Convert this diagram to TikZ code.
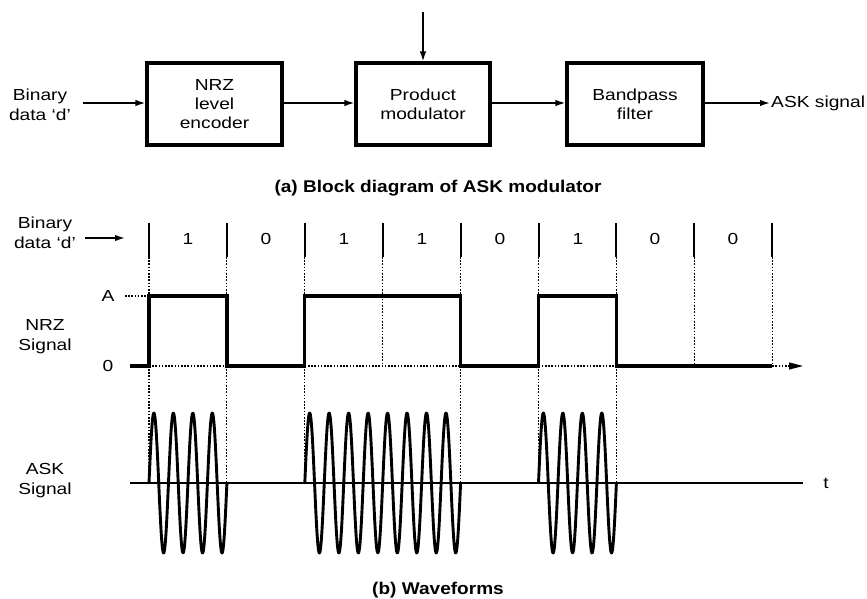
\documentclass[tikz,border=0pt]{standalone}
\usepackage{fontspec}
\setmainfont{Liberation Sans}[FakeStretch=1.2]
\newfontfamily\capfont{Liberation Sans}[FakeStretch=1.12]
\usetikzlibrary{arrows.meta}
\begin{document}
\begin{tikzpicture}[x=1pt,y=-1pt,
  blk/.style={draw, line width=3.1pt, minimum height=82pt, align=center, inner sep=0pt, font=\fontsize{16}{19}\selectfont},
  lbl/.style={align=center, inner sep=1pt, font=\fontsize{16}{20}\selectfont},
  capt/.style={inner sep=0pt, font=\capfont\bfseries\fontsize{17}{20}\selectfont},
  sig/.style={-{Latex[length=10pt,width=6.5pt]}, line width=1.6pt},
  dots/.style={dash pattern=on 1.6pt off 1.6pt, line width=1.1pt},
  bitmark/.style={line width=2pt},
  nrz/.style={line width=3.3pt, line join=miter},
  wave/.style={line width=2.9pt, line join=round},
  axis/.style={line width=1.9pt}]
\useasboundingbox (0,0) rectangle (867,598);

% ---------- (a) block diagram ----------
\node[lbl] (bin) at (40,105) {Binary\\data `d'};
\node[blk, minimum width=135pt] (nrzb) at (214.5,104) {NRZ\\level\\encoder};
\node[blk, minimum width=134pt] (prod) at (423,104) {Product\\modulator};
\node[blk, minimum width=136pt] (bpf) at (635,104) {Bandpass\\filter};
\node[lbl, anchor=west] (ask) at (770,103) {ASK signal};
\coordinate (in) at (83,103);
\coordinate (carrier) at (423,12);
\draw[sig] (in) -- (in -| nrzb.west);
\draw[sig] (nrzb.east |- 0,103) -- (prod.west |- 0,103);
\draw[sig] (prod.east |- 0,103) -- (bpf.west |- 0,103);
\draw[sig] (bpf.east |- 0,103) -- (ask.west);
\draw[sig] (carrier) -- (prod.north);
\node[capt] (capa) at (438,188) {(a) Block diagram of ASK modulator};

% ---------- (b) waveforms ----------
\node[lbl] (bin2) at (45,233) {Binary\\data `d'};
\coordinate (da0) at (85,238);
\coordinate (da1) at (125,238);
\draw[sig] (da0) -- (da1);

% bit marks and digits
\foreach \b in {149,226.9,304.8,382.7,460.6,538.5,616.4,694.3,772.2}
  \draw[bitmark] (\b,223) -- (\b,257);
\foreach \c/\d in {188/1,266/0,344/1,422/1,500/0,578/1,655/0,733/0}
  \node[lbl] (bit\c) at (\c,239) {\d};

% dotted guide lines
\foreach \b in {149,226.9,304.8,460.6,538.5,616.4}
  \draw[dots] (\b,257) -- (\b,483);
\foreach \b in {382.7,694.3,772.2}
  \draw[dots] (\b,257) -- (\b,366);
\draw[dots] (125,296) -- (149,296);
\draw[dots] (149,366) -- (226.9,366);
\draw[dots] (304.8,366) -- (460.6,366);
\draw[dots] (538.5,366) -- (616.4,366);
\draw[dots, -{Triangle[length=14pt,width=7pt]}] (772.2,366) -- (803,366);

% NRZ labels
\node[lbl] (la) at (108,296) {A};
\node[lbl] (l0) at (108,366) {0};
\node[lbl] (nrzl) at (45,337) {NRZ\\Signal};

% NRZ waveform
\draw[nrz] (130,366) -- (149,366) -- (149,296) -- (226.9,296) -- (226.9,366)
  -- (304.8,366) -- (304.8,296) -- (460.6,296) -- (460.6,366)
  -- (538.5,366) -- (538.5,296) -- (616.4,296) -- (616.4,366) -- (772.2,366);

% ASK
\node[lbl] (askl) at (45,481) {ASK\\Signal};
\draw[axis] (130,483) -- (803,483);
\node[lbl] (tl) at (826,483) {t};
\draw[wave] plot[domain=0:77.9, samples=160] ({149+\x},{483-70*sin(18.4852*\x)});
\draw[wave] plot[domain=0:155.8, samples=320] ({304.8+\x},{483-70*sin(18.4852*\x)});
\draw[wave] plot[domain=0:77.9, samples=160] ({538.5+\x},{483-70*sin(18.4852*\x)});

\node[capt] (capb) at (438,590) {(b) Waveforms};
\end{tikzpicture}
\end{document}
